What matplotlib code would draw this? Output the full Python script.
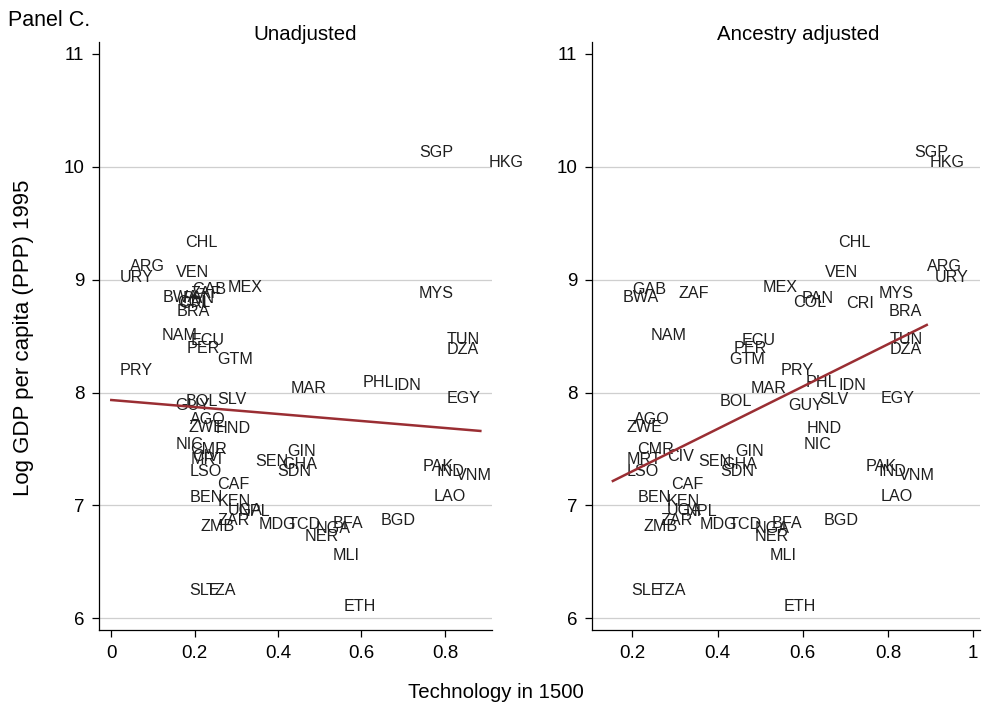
import matplotlib
matplotlib.use("Agg")
import matplotlib.pyplot as plt

plt.rcParams['font.family'] = ['Liberation Sans', 'DejaVu Sans']

countries = ["SGP", "HKG", "CHL", "VEN", "ARG", "URY", "MEX", "GAB", "BWA", "ZAF",
             "COL", "PAN", "CRI", "MYS", "BRA", "NAM", "ECU", "PER", "GTM", "TUN",
             "DZA", "PRY", "PHL", "IDN", "MAR", "BOL", "GUY", "SLV", "EGY", "AGO",
             "ZWE", "HND", "NIC", "GIN", "CMR", "CIV", "MRT", "LSO", "SEN", "GHA",
             "SDN", "PAK", "IND", "VNM", "CAF", "BEN", "KEN", "LAO", "UGA", "NPL",
             "ZAR", "ZMB", "MDG", "TCD", "NGA", "BFA", "NER", "BGD", "MLI", "SLE",
             "TZA", "ETH"]

# log GDP per capita (PPP) 1995
gdp = [10.14, 10.05, 9.34, 9.07, 9.13, 9.03, 8.94, 8.92, 8.85, 8.89,
       8.81, 8.84, 8.80, 8.89, 8.73, 8.52, 8.47, 8.40, 8.30, 8.48,
       8.39, 8.21, 8.10, 8.07, 8.05, 7.93, 7.90, 7.95, 7.96, 7.77,
       7.70, 7.69, 7.55, 7.49, 7.51, 7.44, 7.42, 7.31, 7.40, 7.37,
       7.31, 7.36, 7.31, 7.28, 7.20, 7.08, 7.05, 7.09, 6.97, 6.96,
       6.88, 6.82, 6.84, 6.84, 6.81, 6.85, 6.74, 6.88, 6.57, 6.26,
       6.26, 6.12]

# technology in 1500, unadjusted
tech_unadj = [0.728, 0.894, 0.168, 0.144, 0.035, 0.011, 0.268, 0.185, 0.112, 0.180,
              0.149, 0.161, 0.152, 0.728, 0.147, 0.110, 0.180, 0.170, 0.243, 0.794,
              0.794, 0.011, 0.593, 0.667, 0.420, 0.168, 0.144, 0.244, 0.794, 0.178,
              0.176, 0.240, 0.144, 0.412, 0.180, 0.185, 0.180, 0.179, 0.336, 0.399,
              0.387, 0.736, 0.770, 0.816, 0.244, 0.178, 0.244, 0.762, 0.270, 0.296,
              0.244, 0.203, 0.344, 0.412, 0.480, 0.520, 0.453, 0.636, 0.520, 0.176,
              0.216, 0.546]

# technology in 1500, ancestry adjusted
tech_adj = [0.852, 0.887, 0.673, 0.643, 0.881, 0.901, 0.496, 0.189, 0.168, 0.298,
            0.567, 0.588, 0.692, 0.768, 0.791, 0.232, 0.447, 0.427, 0.417, 0.794,
            0.794, 0.537, 0.596, 0.674, 0.468, 0.394, 0.557, 0.629, 0.772, 0.193,
            0.177, 0.598, 0.592, 0.431, 0.202, 0.271, 0.177, 0.177, 0.344, 0.400,
            0.396, 0.738, 0.768, 0.815, 0.281, 0.203, 0.271, 0.773, 0.271, 0.314,
            0.255, 0.216, 0.348, 0.416, 0.477, 0.518, 0.476, 0.639, 0.512, 0.187,
            0.244, 0.545]

# fitted lines (end points)
fit_unadj_x = [0.0, 0.885]
fit_unadj_y = [7.934, 7.660]
fit_adj_x = [0.154, 0.891]
fit_adj_y = [7.217, 8.599]

y_ticks = [6, 7, 8, 9, 10, 11]
x_ticks_unadj = [0, 0.2, 0.4, 0.6, 0.8]
x_labels_unadj = ["0", "0.2", "0.4", "0.6", "0.8"]
x_ticks_adj = [0.2, 0.4, 0.6, 0.8, 1]
x_labels_adj = ["0.2", "0.4", "0.6", "0.8", "1"]

W, H = 982, 704
LINE_COLOR = "#9a2e33"
TEXT_COLOR = "#1e1e1e"


def px_axes(fig, x0, y0, x1, y1):
    return fig.add_axes([x0 / W, 1 - y1 / H, (x1 - x0) / W, (y1 - y0) / H])


def draw_panel(ax, xs, fit_x, fit_y, xlim, xticks, xlabels):
    ax.set_xlim(*xlim)
    ax.set_ylim(5.897, 11.105)
    for yt in y_ticks[:-1]:
        ax.axhline(yt, color="#cfcfcf", lw=0.9, zorder=0)
    for name, x, y in zip(countries, xs, gdp):
        ax.annotate(name, (x, y), xytext=(3, -4.1), textcoords="offset points",
                    ha="left", va="baseline", fontsize=11.6, color=TEXT_COLOR,
                    annotation_clip=False)
    ax.plot(fit_x, fit_y, color=LINE_COLOR, lw=1.8, zorder=3)
    ax.set_yticks(y_ticks)
    ax.set_xticks(xticks)
    ax.set_xticklabels(xlabels)
    for s in ["top", "right"]:
        ax.spines[s].set_visible(False)
    for s in ["left", "bottom"]:
        ax.spines[s].set_linewidth(0.9)
    ax.tick_params(length=5, width=0.9, pad=5.5, labelsize=13.5, colors="black")


fig = plt.figure(figsize=(W / 100, H / 100), dpi=100)

ax1 = px_axes(fig, 99, 42, 492, 630)
draw_panel(ax1, tech_unadj, fit_unadj_x, fit_unadj_y, (-0.0295, 0.913),
           x_ticks_unadj, x_labels_unadj)

ax2 = px_axes(fig, 592, 42, 980, 630)
draw_panel(ax2, tech_adj, fit_adj_x, fit_adj_y, (0.105, 1.016),
           x_ticks_adj, x_labels_adj)

fig.text(8 / W, 1 - 20 / H, "Panel C.", ha="left", va="center", fontsize=15.5)
fig.text(305 / W, 1 - 34 / H, "Unadjusted", ha="center", va="center", fontsize=14.7)
fig.text(798 / W, 1 - 34 / H, "Ancestry adjusted", ha="center", va="center", fontsize=14.7)
fig.text(24 / W, 1 - 338 / H, "Log GDP per capita (PPP) 1995", ha="center", va="center",
         rotation=90, fontsize=16)
fig.text(496 / W, 1 - 692 / H, "Technology in 1500", ha="center", va="center", fontsize=14.7)

fig.savefig("out.png", dpi=100)
